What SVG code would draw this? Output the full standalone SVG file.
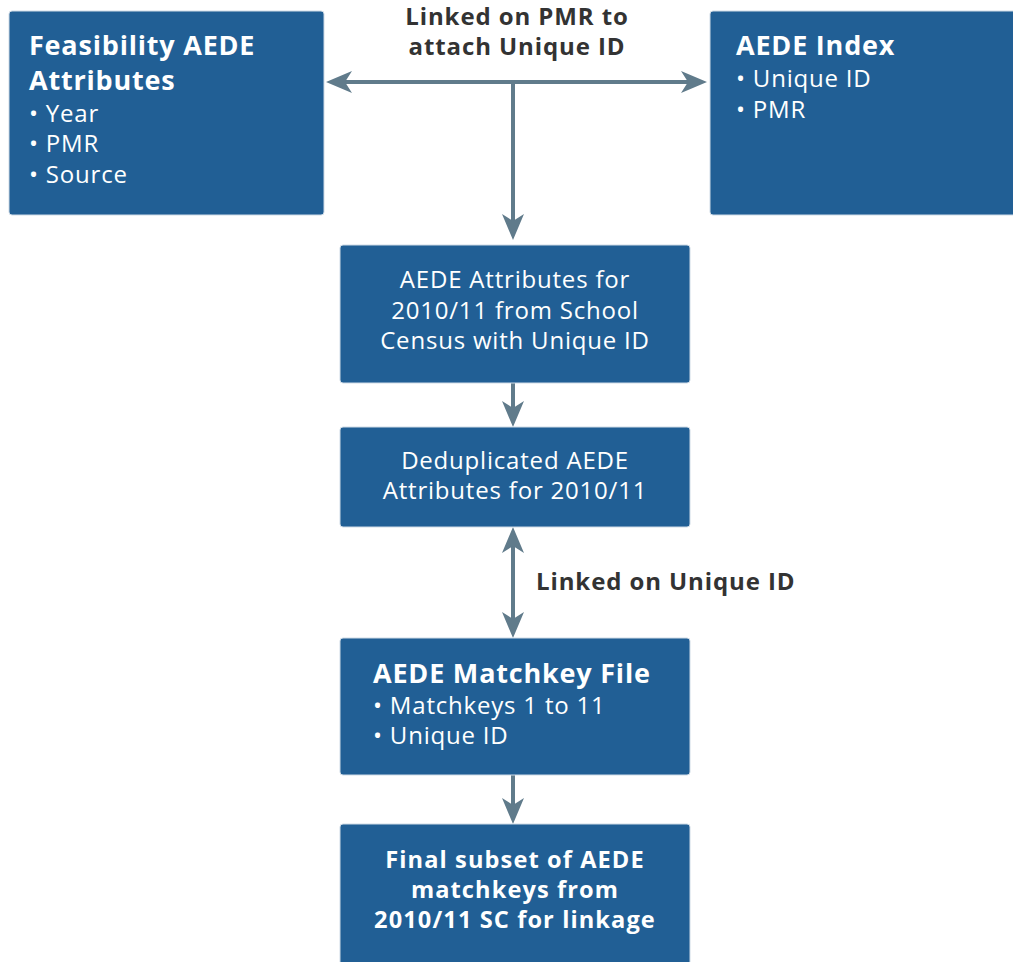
<svg xmlns="http://www.w3.org/2000/svg" width="1013" height="962" viewBox="0 0 1013 962">
<style>
.box{fill:#215f95;stroke:#cfdbe6;stroke-width:1}
.t{font-family:"Open Sans","Noto Sans","Liberation Sans",sans-serif;fill:#ffffff;font-size:24px;letter-spacing:0.8px}
.b{font-weight:bold;font-size:27px;letter-spacing:0.8px}
.f{font-weight:bold;font-size:23.6px;letter-spacing:1.1px}
.c{text-anchor:middle}
.lbl{font-family:"Open Sans","Noto Sans","Liberation Sans",sans-serif;fill:#333333;font-size:24px;font-weight:bold;letter-spacing:0.9px}
.con{stroke:#607b8b;stroke-width:4;fill:none}
</style>
<defs>
<marker id="ah" markerUnits="userSpaceOnUse" viewBox="0 0 26 22" markerWidth="26" markerHeight="22" refX="7" refY="11" orient="auto-start-reverse">
<path d="M0,0 L26,11 L0,22 L7,11 Z" fill="#607b8b"/>
</marker>
</defs>
<rect width="1013" height="962" fill="#ffffff"/>
<g id="connectors">
<line class="con" x1="345" y1="82" x2="688" y2="82" marker-start="url(#ah)" marker-end="url(#ah)"/>
<line class="con" x1="513" y1="82" x2="513" y2="221" marker-end="url(#ah)"/>
<line class="con" x1="513" y1="383" x2="513" y2="408" marker-end="url(#ah)"/>
<line class="con" x1="513" y1="546" x2="513" y2="619" marker-start="url(#ah)" marker-end="url(#ah)"/>
<line class="con" x1="513" y1="775" x2="513" y2="805" marker-end="url(#ah)"/>
<text class="lbl c" x="517" y="25">Linked on PMR to</text>
<text class="lbl c" x="517" y="55">attach Unique ID</text>
<text class="lbl" x="536" y="590">Linked on Unique ID</text>
</g>
<g id="feasibility">
<rect class="box" x="9" y="11" width="315" height="204" rx="3"/>
<text class="t b" x="29" y="55">Feasibility AEDE</text>
<text class="t b" x="29" y="90">Attributes</text>
<text class="t" x="29" y="122">• Year</text>
<text class="t" x="29" y="152">• PMR</text>
<text class="t" x="29" y="183">• Source</text>
</g>
<g id="index">
<rect class="box" x="710" y="11" width="310" height="204" rx="3"/>
<text class="t b" x="736" y="55">AEDE Index</text>
<text class="t" x="736" y="87">• Unique ID</text>
<text class="t" x="736" y="118">• PMR</text>
</g>
<g id="attributes">
<rect class="box" x="340" y="245" width="350" height="138" rx="3"/>
<text class="t c" x="515" y="288">AEDE Attributes for</text>
<text class="t c" x="515" y="319">2010/11 from School</text>
<text class="t c" x="515" y="349">Census with Unique ID</text>
</g>
<g id="dedup">
<rect class="box" x="340" y="427" width="350" height="100" rx="3"/>
<text class="t c" x="515" y="469">Deduplicated AEDE</text>
<text class="t c" x="515" y="499">Attributes for 2010/11</text>
</g>
<g id="matchkey">
<rect class="box" x="340" y="638" width="350" height="137" rx="3"/>
<text class="t b" x="373" y="683">AEDE Matchkey File</text>
<text class="t" x="373" y="714">• Matchkeys 1 to 11</text>
<text class="t" x="373" y="744">• Unique ID</text>
</g>
<g id="final">
<rect class="box" x="340" y="824" width="350" height="150" rx="3"/>
<text class="t f c" x="515" y="868">Final subset of AEDE</text>
<text class="t f c" x="515" y="898">matchkeys from</text>
<text class="t f c" x="515" y="928">2010/11 SC for linkage</text>
</g>
</svg>
